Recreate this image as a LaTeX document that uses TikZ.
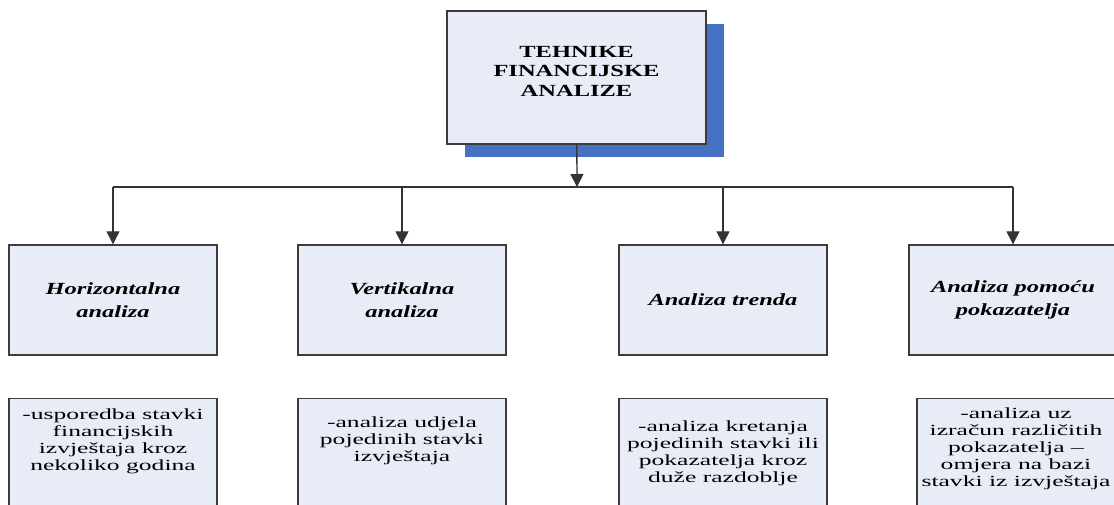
\documentclass[tikz,border=0pt]{standalone}
\usepackage{xcolor}
\usepackage{tikz}
\usepackage{fontspec}
\setmainfont{Liberation Serif}
\newfontfamily\wideserif[FakeStretch=1.44]{Liberation Serif}
\newfontfamily\widerserif[FakeStretch=1.65]{Liberation Serif}
\usetikzlibrary{arrows.meta,shadows}
\definecolor{boxfill}{RGB}{231,236,246}
\definecolor{boxline}{RGB}{60,60,60}
\definecolor{shadowblue}{RGB}{70,114,196}

\begin{document}
\begin{tikzpicture}[x=1pt,y=-1pt,
  box/.style={draw=boxline,fill=boxfill,line width=1.4pt,inner sep=0pt,align=center},
  kind/.style={box,minimum width=208pt,minimum height=110pt,font={\wideserif\bfseries\itshape\fontsize{17}{23}\selectfont}},
  note/.style={box,anchor=north,minimum width=208pt,minimum height=125pt},
  notetext/.style={anchor=north,inner sep=0pt,align=center,font={\widerserif\fontsize{15.5}{17}\selectfont}},
  link/.style={draw=black!80,line width=1.3pt},
  arr/.style={link,-{Triangle[width=13pt,length=13pt]}}]
\useasboundingbox (0,0) rectangle (1114,504);
\node [box,minimum width=259pt,minimum height=133pt,
  drop shadow={shadow xshift=18pt,shadow yshift=-13pt,fill=shadowblue,opacity=1},
  font={\wideserif\bfseries\fontsize{17}{19.5}\selectfont}] (tfa) at (576.5,77.5)
  {TEHNIKE\\FINANCIJSKE\\ANALIZE\\[-6.5pt]};
\node [kind] (hor) at (113,300) {Horizontalna\\analiza};
\node [kind] (ver) at (402,300) {Vertikalna\\analiza};
\node [kind] (tre) at (723,300) {Analiza trenda};
\node [kind] (pok) at (1013,300) {Analiza pomoću\\pokazatelja};
\node [note] (horn) at (113,398) {};
\node [note] (vern) at (402,398) {};
\node [note] (tren) at (723,398) {};
\node [note] (pokn) at (1021,398) {};
\node [notetext] (hort) at ([yshift=-11pt]horn.north) {-usporedba stavki\\financijskih\\izvještaja kroz\\nekoliko godina};
\node [notetext] (vert) at ([yshift=-19pt]vern.north) {-analiza udjela\\pojedinih stavki\\izvještaja};
\node [notetext] (tret) at ([yshift=-23pt]tren.north) {-analiza kretanja\\pojedinih stavki ili\\pokazatelja kroz\\duže razdoblje};
\node [notetext] (pokt) at ([xshift=-5pt,yshift=-10pt]pokn.north) {-analiza uz\\izračun različitih\\pokazatelja –\\omjera na bazi\\stavki iz izvještaja};
\coordinate (bus) at (577,187);
\draw [arr] (tfa) -- (bus);
\draw [link] (hor |- bus) -- (pok |- bus);
\foreach \k in {hor,ver,tre,pok}
  \draw [arr] (\k |- bus) -- (\k.north);
\end{tikzpicture}
\end{document}
